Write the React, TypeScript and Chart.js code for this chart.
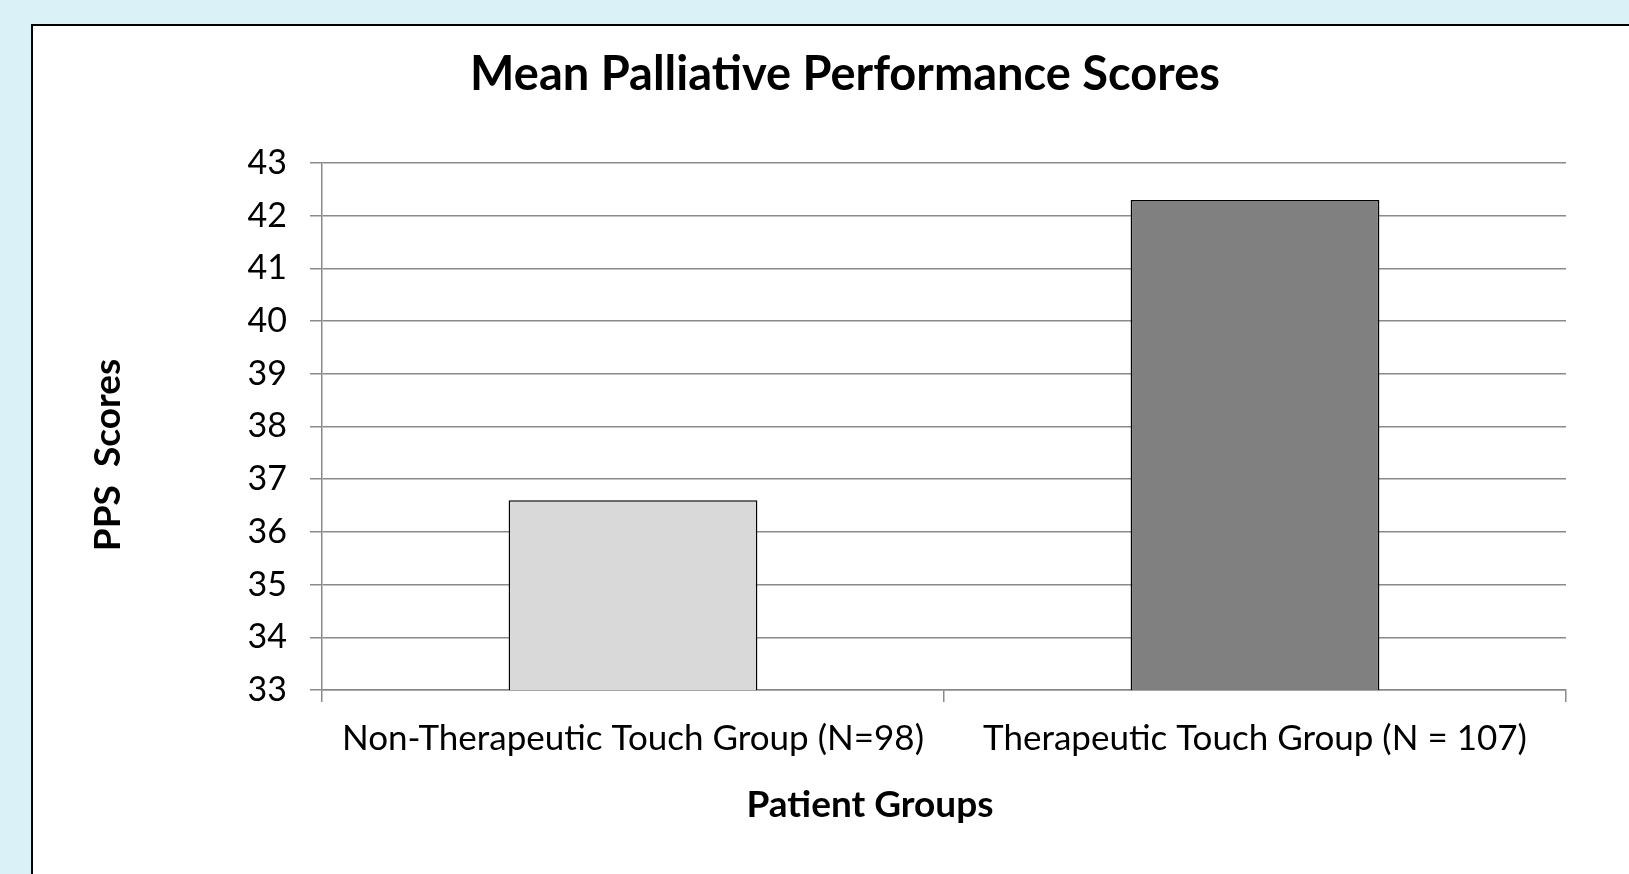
import React, { useEffect, useRef } from "react";
import { Chart, registerables } from "chart.js";

Chart.register(...registerables);

const categories = ["Non-Therapeutic Touch Group (N=98)", "Therapeutic Touch Group (N = 107)"];
const meanScores = [36.6, 42.3];
const barColors = ["#d9d9d9", "#808080"];
const yMin = 33;
const yMax = 43;
const yStep = 1;
const chartTitle = "Mean Palliative Performance Scores";
const yAxisTitle = "PPS  Scores";
const xAxisTitle = "Patient Groups";

const FONT = "Lato, 'Open Sans', sans-serif";
const GRID = "#8a8a8a";

const titlesPlugin = {
  id: "excelTitles",
  afterDraw(chart: any) {
    const ctx = chart.ctx as CanvasRenderingContext2D;
    const area = chart.chartArea;
    ctx.save();
    ctx.fillStyle = "#000";
    ctx.textAlign = "center";
    ctx.textBaseline = "middle";
    ctx.font = `bold 47px ${FONT}`;
    ctx.fillText(chartTitle, 845, 75);
    ctx.font = `bold 37px ${FONT}`;
    ctx.fillText(xAxisTitle, 870, area.bottom + 115);
    ctx.translate(108, 455);
    ctx.rotate(-Math.PI / 2);
    ctx.font = `bold 37px ${FONT}`;
    ctx.fillText(yAxisTitle, 0, 0);
    ctx.restore();
  },
};

export default function App() {
  const canvasRef = useRef<HTMLCanvasElement | null>(null);

  useEffect(() => {
    if (!canvasRef.current) return;
    const chart = new Chart(canvasRef.current, {
      type: "bar",
      data: {
        labels: categories,
        datasets: [
          {
            data: meanScores,
            backgroundColor: barColors,
            borderColor: "#000000",
            borderWidth: 1.5,
            barPercentage: 0.4,
            categoryPercentage: 1,
          },
        ],
      },
      options: {
        animation: false,
        responsive: true,
        maintainAspectRatio: false,
        layout: { padding: { left: 0, right: 63, top: 163, bottom: 0 } },
        plugins: {
          legend: { display: false },
          tooltip: { enabled: false },
          title: { display: false },
        },
        scales: {
          x: {
            afterFit: (scale: any) => {
              scale.height = 184;
            },
            grid: {
              display: true,
              drawOnChartArea: false,
              drawTicks: true,
              tickLength: 12,
              color: GRID,
              lineWidth: 1.5,
              offset: true,
            },
            border: { display: true, color: GRID, width: 1.5 },
            ticks: {
              color: "#000",
              font: { family: FONT, size: 35 },
              padding: 16,
              maxRotation: 0,
              autoSkip: false,
            },
          },
          y: {
            min: yMin,
            max: yMax,
            afterFit: (scale: any) => {
              scale.width = 322;
            },
            grid: {
              color: GRID,
              lineWidth: 1.5,
              drawTicks: true,
              tickLength: 12,
            },
            border: { display: true, color: GRID, width: 1.5 },
            ticks: {
              stepSize: yStep,
              color: "#000",
              font: { family: FONT, size: 34 },
              padding: 23,
            },
          },
        },
      },
      plugins: [titlesPlugin],
    });
    return () => chart.destroy();
  }, []);

  return (
    <div style={{ position: "fixed", left: 0, top: 0, width: 1629, height: 874, background: "#d9f1f7", overflow: "hidden" }}>
      <div
        style={{
          position: "absolute",
          left: 31,
          top: 24,
          width: 1700,
          height: 1000,
          background: "#ffffff",
          border: "2px solid #000",
        }}
      />
      <div style={{ position: "absolute", left: 0, top: 0, width: 1629, height: 874 }}>
        <canvas ref={canvasRef} />
      </div>
    </div>
  );
}
